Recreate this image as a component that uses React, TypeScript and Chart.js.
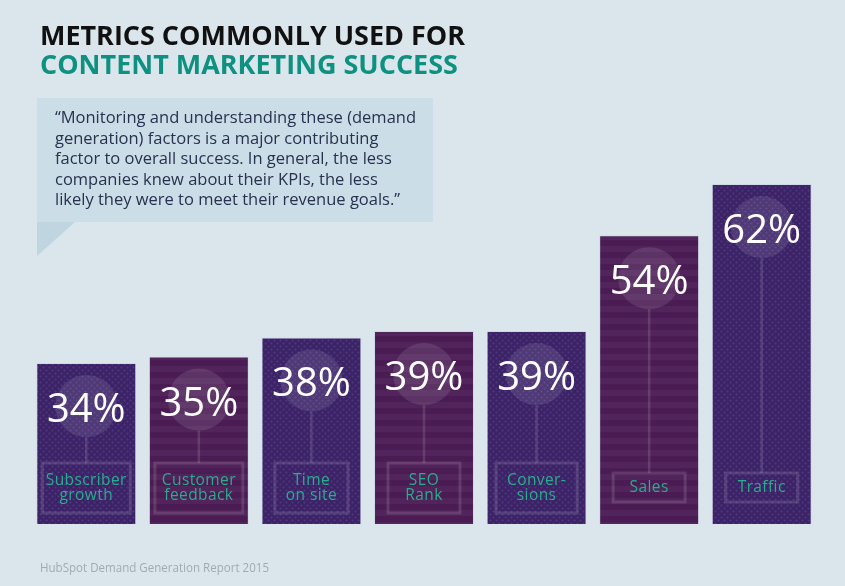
import React, { useEffect, useRef } from "react";
import { Chart, registerables } from "chart.js";

Chart.register(...registerables);

const categories: (string | string[])[] = [
  ["Subscriber", "growth"],
  ["Customer", "feedback"],
  ["Time", "on site"],
  ["SEO", "Rank"],
  ["Conver-", "sions"],
  "Sales",
  "Traffic",
];
const values = [34, 35, 38, 39, 39, 54, 62];
const valueLabels = ["34%", "35%", "38%", "39%", "39%", "54%", "62%"];

const titleLines = ["METRICS COMMONLY USED FOR", "CONTENT MARKETING SUCCESS"];
const quoteLines = [
  "\u201CMonitoring and understanding these (demand",
  "generation) factors is a major contributing",
  "factor to overall success. In general, the less",
  "companies knew about their KPIs, the less",
  "likely they were to meet their revenue goals.\u201D",
];
const footerText = "HubSpot Demand Generation Report 2015";

const BG = "#dbe6ec";
const FONT = "'Open Sans', 'DejaVu Sans', sans-serif";

function makeDotPattern(ctx: CanvasRenderingContext2D) {
  const c = document.createElement("canvas");
  c.width = 6;
  c.height = 6;
  const g = c.getContext("2d")!;
  g.fillStyle = "#3d2366";
  g.fillRect(0, 0, 6, 6);
  g.fillStyle = "#4a3a84";
  g.beginPath();
  g.arc(1.5, 1.5, 1.1, 0, Math.PI * 2);
  g.arc(4.5, 4.5, 1.1, 0, Math.PI * 2);
  g.fill();
  return ctx.createPattern(c, "repeat")!;
}

function makeStripePattern(ctx: CanvasRenderingContext2D) {
  const c = document.createElement("canvas");
  c.width = 4;
  c.height = 12;
  const g = c.getContext("2d")!;
  g.fillStyle = "#4a1c53";
  g.fillRect(0, 0, 4, 12);
  g.fillStyle = "#51245b";
  g.fillRect(0, 6, 4, 6);
  return ctx.createPattern(c, "repeat")!;
}

function drawScaled(ctx: CanvasRenderingContext2D, text: string, x: number, y: number, sx: number) {
  ctx.save();
  ctx.translate(x, y);
  ctx.scale(sx, 1);
  ctx.fillText(text, 0, 0);
  ctx.restore();
}

const backgroundPlugin = {
  id: "infographicBackground",
  beforeDraw(chart: any) {
    const ctx: CanvasRenderingContext2D = chart.ctx;
    const W = chart.width;
    const H = chart.height;
    ctx.save();
    ctx.fillStyle = BG;
    ctx.fillRect(0, 0, W, H);

    // Title
    ctx.textBaseline = "alphabetic";
    ctx.textAlign = "left";
    ctx.font = `700 27px ${FONT}`;
    const tsx = 425 / ctx.measureText(titleLines[0]).width;
    ctx.fillStyle = "#111111";
    drawScaled(ctx, titleLines[0], 40, 45, tsx);
    ctx.fillStyle = "#0f9181";
    drawScaled(ctx, titleLines[1], 40, 74, tsx);

    // Quote box
    ctx.fillStyle = "#cbdde6";
    ctx.fillRect(37, 98, 396, 124);
    ctx.fillStyle = "#bfd5e0";
    ctx.beginPath();
    ctx.moveTo(37, 222);
    ctx.lineTo(75, 222);
    ctx.lineTo(37, 256);
    ctx.closePath();
    ctx.fill();

    ctx.font = `400 16px ${FONT}`;
    ctx.fillStyle = "#28314f";
    const qsx = 361 / ctx.measureText(quoteLines[0]).width;
    quoteLines.forEach((line, i) => {
      drawScaled(ctx, line, 55, 123 + i * 20.5, qsx);
    });

    // Footer
    ctx.font = `400 12px ${FONT}`;
    ctx.fillStyle = "#a0aab1";
    const fsx = 229 / ctx.measureText(footerText).width;
    drawScaled(ctx, footerText, 40, 572, fsx);
    ctx.restore();
  },
};

const overlayPlugin = {
  id: "barOverlays",
  afterDatasetsDraw(chart: any) {
    const ctx: CanvasRenderingContext2D = chart.ctx;
    const meta = chart.getDatasetMeta(0);
    const labels = chart.data.labels as (string | string[])[];
    const bottom = chart.chartArea.bottom;
    meta.data.forEach((bar: any, i: number) => {
      const { x, y, width } = bar.getProps(["x", "y", "width"], true);
      const lines = Array.isArray(labels[i]) ? (labels[i] as string[]) : [labels[i] as string];
      const cy = y + 43;
      const r = 31;
      const twoLine = lines.length > 1;
      const boxTop = twoLine ? bottom - 61 : bottom - 51;
      const boxH = twoLine ? 50 : 29;

      ctx.save();
      // connector line
      ctx.strokeStyle = "rgba(255,255,255,0.13)";
      ctx.lineWidth = 2.5;
      ctx.beginPath();
      ctx.moveTo(x, cy + r);
      ctx.lineTo(x, boxTop);
      ctx.stroke();

      // circle
      ctx.fillStyle = "rgba(255,255,255,0.10)";
      ctx.beginPath();
      ctx.arc(x, cy, r, 0, Math.PI * 2);
      ctx.fill();

      // value text
      ctx.fillStyle = "#ffffff";
      ctx.font = `400 40px ${FONT}`;
      ctx.textAlign = "left";
      ctx.textBaseline = "alphabetic";
      const vw = ctx.measureText(valueLabels[i]).width;
      const vsx = Math.min(1, 79 / vw);
      drawScaled(ctx, valueLabels[i], x - (vw * vsx) / 2, y + 59, vsx);

      // label box
      ctx.font = `400 15.5px ${FONT}`;
      (ctx as any).letterSpacing = "0.4px";
      let tw = 0;
      lines.forEach((l) => (tw = Math.max(tw, ctx.measureText(l).width)));
      const bw = Math.min(width - 12, Math.max(72, tw + 22));
      ctx.strokeStyle = "rgba(255,255,255,0.13)";
      ctx.lineWidth = 3;
      ctx.strokeRect(x - bw / 2, boxTop, bw, boxH);

      ctx.fillStyle = "#2aad8d";
      ctx.textAlign = "center";
      ctx.textBaseline = "middle";
      const mid = boxTop + boxH / 2;
      lines.forEach((l, k) => {
        const ly = mid + (k - (lines.length - 1) / 2) * 15;
        ctx.fillText(l, x, ly);
      });
      ctx.restore();
    });
  },
};

export default function App() {
  const canvasRef = useRef<HTMLCanvasElement>(null);

  useEffect(() => {
    const canvas = canvasRef.current!;
    const ctx = canvas.getContext("2d")!;
    const dots = makeDotPattern(ctx);
    const stripes = makeStripePattern(ctx);
    const fills = values.map((_, i) => (i % 2 === 0 ? dots : stripes));

    const chart = new Chart(canvas, {
      type: "bar",
      data: {
        labels: categories as any,
        datasets: [
          {
            data: values,
            backgroundColor: fills as any,
            borderColor: "rgba(190,200,225,0.4)",
            borderWidth: 1,
            borderSkipped: false,
            categoryPercentage: 1,
            barPercentage: 0.888,
          },
        ],
      },
      options: {
        responsive: false,
        animation: false,
        devicePixelRatio: 1,
        layout: { padding: { left: 30, right: 27, top: 133, bottom: 62 } },
        plugins: {
          legend: { display: false },
          tooltip: { enabled: false },
        },
        scales: {
          x: { display: false, grid: { display: false } },
          y: { display: false, min: 8.8, max: 70, grid: { display: false } },
        },
      },
      plugins: [backgroundPlugin, overlayPlugin],
    });
    return () => chart.destroy();
  }, []);

  return (
    <div style={{ position: "fixed", left: 0, top: 0, width: 845, height: 586, background: BG }}>
      <canvas ref={canvasRef} width={845} height={586} style={{ display: "block" }} />
    </div>
  );
}
